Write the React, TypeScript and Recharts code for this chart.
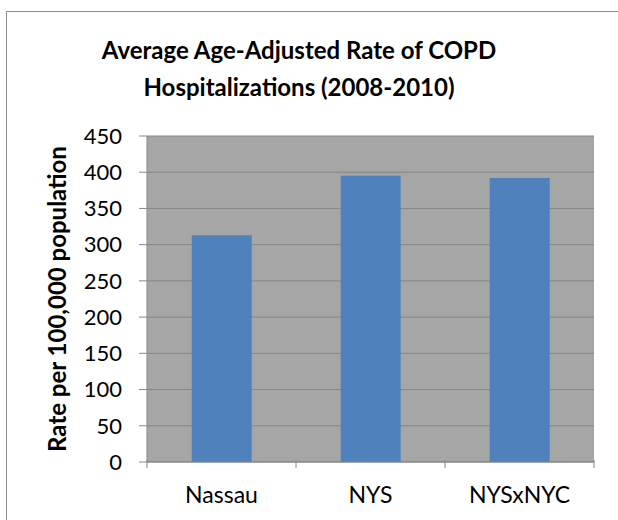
import { BarChart, Bar, XAxis, YAxis, CartesianGrid } from 'recharts';

const regions = ['Nassau', 'NYS', 'NYSxNYC'];
const rates = [313, 395, 392];
const yTicks = [0, 50, 100, 150, 200, 250, 300, 350, 400, 450];

const chartData = regions.map((name, i) => ({ name, rate: rates[i] }));

const FONT = 'Lato, "Open Sans", sans-serif';
const GRID = '#868686';

// Excel-style category ticks: marks sit between categories, not under them
const CategoryTick = (props: any) => {
  const { x, y, payload, index, width, visibleTicksCount } = props;
  const band = width / visibleTicksCount;
  const last = index === visibleTicksCount - 1;
  return (
    <g>
      <line x1={x - band / 2} x2={x - band / 2} y1={y - 10} y2={y - 2} stroke={GRID} />
      {last && <line x1={x + band / 2} x2={x + band / 2} y1={y - 10} y2={y - 2} stroke={GRID} />}
      <text x={x} y={y + 33} textAnchor="middle" fill="#000" fontSize={23} fontFamily={FONT}>
        {payload.value}
      </text>
    </g>
  );
};

export default function App() {
  return (
    <div style={{ position: 'relative', width: 618, height: 520, overflow: 'hidden', background: '#fff' }}>
      <style>{'body{margin:0}'}</style>
      <div
        style={{
          position: 'absolute',
          left: 6,
          top: 11,
          width: 700,
          height: 600,
          border: '1px solid #8c8c8c',
          boxSizing: 'border-box',
        }}
      />
      <div
        style={{
          position: 'absolute',
          left: 0,
          width: 598,
          top: 31,
          textAlign: 'center',
          fontFamily: FONT,
          fontWeight: 700,
          fontSize: 24,
          lineHeight: '37px',
          color: '#000',
        }}
      >
        Average Age-Adjusted Rate of COPD
        <br />
        Hospitalizations (2008-2010)
      </div>
      <div style={{ position: 'absolute', left: 0, top: 0 }}>
        <BarChart
          width={618}
          height={520}
          data={chartData}
          margin={{ top: 136, right: 24, bottom: 0, left: 0 }}
          barCategoryGap="30%"
        >
          <CartesianGrid horizontal vertical={false} stroke={GRID} fill="#a6a6a6" fillOpacity={1} />
          <XAxis
            dataKey="name"
            height={58}
            axisLine={{ stroke: GRID }}
            tickLine={false}
            interval={0}
            tick={<CategoryTick />}
          />
          <YAxis
            width={147}
            domain={[0, 450]}
            ticks={yTicks}
            interval={0}
            axisLine={{ stroke: GRID }}
            tickLine={{ stroke: GRID }}
            tickSize={8}
            tickMargin={17}
            tick={{ fill: '#000', fontSize: 22, fontFamily: FONT }}
            label={{
              value: 'Rate per 100,000 population',
              angle: -90,
              position: 'insideLeft',
              offset: 57,
              style: { textAnchor: 'middle', fontWeight: 700, fontSize: 24, fontFamily: FONT, fill: '#000' },
            }}
          />
          <Bar dataKey="rate" fill="#4f81bd" isAnimationActive={false} />
        </BarChart>
      </div>
    </div>
  );
}
